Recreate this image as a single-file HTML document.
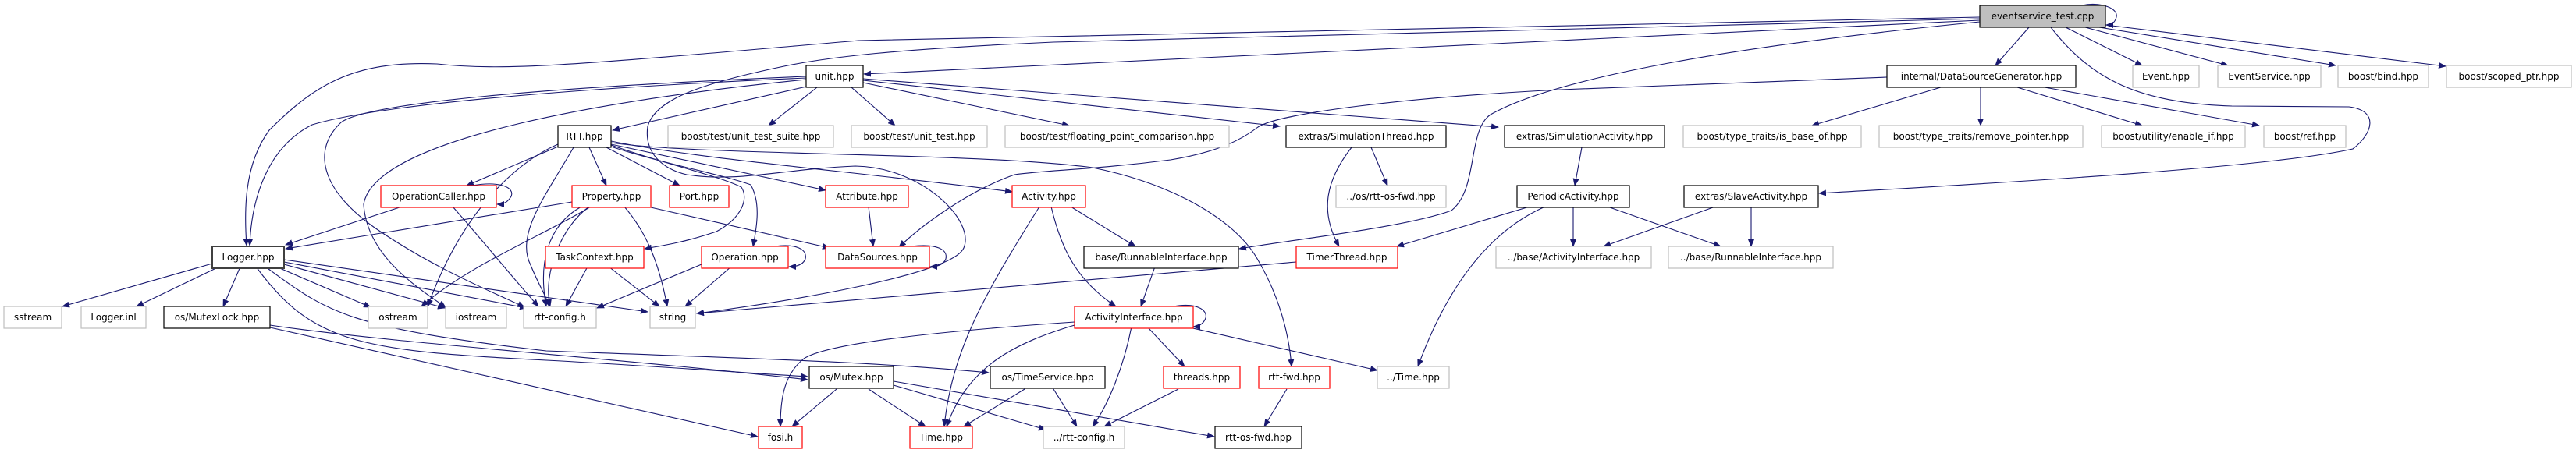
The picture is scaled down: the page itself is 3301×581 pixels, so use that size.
<!DOCTYPE html>
<html><head><meta charset="utf-8"><style>
html,body{margin:0;padding:0;background:#fff;}
svg{display:block;}
text{font-family:"DejaVu Sans","Liberation Sans",sans-serif;font-size:12px;fill:#000;}
.e{fill:none;stroke:#191970;stroke-width:1.1;marker-end:url(#a);}
.g{fill:#fff;stroke:#bfbfbf;stroke-width:1.2;}
.k{fill:#fff;stroke:#000;stroke-width:1.2;}
.r{fill:#fff;stroke:#ff0000;stroke-width:1.2;}
</style></head><body>
<svg width="3301" height="581" viewBox="0 0 3301 581" xmlns="http://www.w3.org/2000/svg">
<defs><marker id="a" markerWidth="10" markerHeight="8" refX="9" refY="4" orient="auto" markerUnits="userSpaceOnUse"><path d="M0,0 L10,4 L0,8 z" fill="#191970"/></marker></defs>

<g>
<path class="e" d="M2668,7 C2690,2 2715,10 2712,22 C2710,30 2705,32 2699,32"/>
<path class="e" d="M2600,35 L2557,84"/>
<path class="e" d="M2647,35 L2745,84"/>
<path class="e" d="M2672,35 L2855,84"/>
<path class="e" d="M2690,35 L2993,84"/>
<path class="e" d="M2698,32 L3134,85"/>
<path class="e" d="M2537,26 L1107,95"/>
<path class="e" d="M2537,22 L1100,52 C750,82 650,92 560,82 C450,77 400,112 345,167 C312,212 313,272 316,315"/>
<path class="e" d="M2537,28 C2250,56 2000,96 1910,147 C1880,167 1895,242 1860,270 C1800,292 1650,308 1588,319"/>
<path class="e" d="M2628,35 C2680,102 2740,132 2860,136 L3010,137 C3050,142 3040,172 3015,191 C2900,217 2500,238 2331,248"/>
<path class="e" d="M2537,24 L1350,54 C1150,63 1060,73 1000,86 C900,107 840,127 830,162 C825,197 850,217 880,224 C950,234 1000,217 1096,213 C1180,214 1250,282 1235,318 C1220,353 1000,388 893,402"/>
<path class="e" d="M2418,99 L2000,115 C1800,125 1640,145 1612,163 C1590,180 1560,195 1500,205 C1400,218 1340,218 1300,224 C1240,245 1180,290 1152,317"/>

<path class="e" d="M1047,108 L785,167"/>
<path class="e" d="M1047,112 L985,161"/>
<path class="e" d="M1091,112 L1147,161"/>
<path class="e" d="M1106,106 L1370,161"/>
<path class="e" d="M1106,103 L1640,162"/>
<path class="e" d="M1106,101 L1920,163"/>
<path class="e" d="M1033,100 C800,110 500,130 400,160 C340,190 322,260 320,315"/>
<path class="e" d="M1033,102 C800,125 480,175 466,262 C470,330 540,372 571,394"/>
<path class="e" d="M1033,98 C700,112 470,132 437,157 C400,192 410,242 480,292 C560,347 640,378 672,394"/>

<path class="e" d="M715,188 L598,238"/>
<path class="e" d="M735,189 C700,250 660,300 680,340 C690,365 700,380 704,393"/>
<path class="e" d="M755,189 L777,238"/>
<path class="e" d="M777,189 L871,238"/>
<path class="e" d="M783,185 L1058,244"/>
<path class="e" d="M783,181 C900,205 1100,220 1297,246"/>
<path class="e" d="M783,183 C900,200 1250,195 1400,215 C1500,235 1580,280 1610,330 C1640,380 1652,430 1655,470"/>
<path class="e" d="M783,186 C850,210 920,225 950,240 C960,255 950,280 918,297 C880,310 850,315 826,319"/>
<path class="e" d="M783,188 C850,210 930,225 962,237 C975,260 970,290 965,316"/>
<path class="e" d="M715,185 C680,200 600,250 548,393"/>

<path class="e" d="M605,238 C640,232 660,240 655,252 C650,260 645,262 637,262"/>
<path class="e" d="M515,265 L366,314"/>
<path class="e" d="M580,265 C620,310 660,360 690,393"/>

<path class="e" d="M733,259 L366,319"/>
<path class="e" d="M745,265 C700,290 690,340 700,393"/>
<path class="e" d="M755,265 C720,290 695,350 705,393"/>
<path class="e" d="M800,265 C830,300 845,340 855,393"/>
<path class="e" d="M834,266 L1063,318"/>
<path class="e" d="M757,265 C700,300 600,340 540,393"/>

<path class="e" d="M272,338 L80,393"/>
<path class="e" d="M283,341 L175,393"/>
<path class="e" d="M308,342 L286,393"/>
<path class="e" d="M354,342 L475,394"/>
<path class="e" d="M364,339 L570,395"/>
<path class="e" d="M364,336 L675,395"/>
<path class="e" d="M364,333 L830,400"/>
<path class="e" d="M328,342 C400,440 460,450 700,462 C850,470 950,478 1035,483"/>
<path class="e" d="M340,342 C420,400 440,420 700,450 C900,458 1100,462 1267,478"/>

<path class="e" d="M346,417 C500,440 800,460 1035,487"/>
<path class="e" d="M346,420 L971,560"/>

<path class="e" d="M753,342 L725,393"/>
<path class="e" d="M780,342 L845,393"/>
<path class="e" d="M993,316 C1020,312 1035,320 1032,332 C1029,340 1020,342 1011,342"/>
<path class="e" d="M899,339 L765,395"/>
<path class="e" d="M937,342 L878,393"/>

<path class="e" d="M1113,265 L1119,316"/>
<path class="e" d="M1168,316 C1200,312 1215,320 1212,332 C1209,340 1200,342 1192,342"/>

<path class="e" d="M1372,265 L1455,316"/>
<path class="e" d="M1347,265 C1360,320 1380,360 1430,393"/>
<path class="e" d="M1332,265 C1260,380 1220,450 1210,547"/>

<path class="e" d="M1480,342 L1462,393"/>
<path class="e" d="M1661,336 L893,402"/>
<path class="e" d="M1732,189 C1700,230 1690,270 1716,316"/>
<path class="e" d="M1757,189 L1778,238"/>
<path class="e" d="M2027,189 L2018,238"/>
<path class="e" d="M1960,265 L1790,316"/>
<path class="e" d="M1980,265 C1900,300 1850,380 1817,470"/>
<path class="e" d="M2016,265 L2016,316"/>
<path class="e" d="M2060,265 L2205,316"/>
<path class="e" d="M2198,265 L2055,316"/>
<path class="e" d="M2244,265 L2244,316"/>
<path class="e" d="M2487,112 L2322,161"/>
<path class="e" d="M2538,112 L2538,161"/>
<path class="e" d="M2585,112 L2745,161"/>
<path class="e" d="M2620,112 L2895,161"/>

<path class="e" d="M1504,393 C1530,388 1548,396 1545,408 C1542,416 1535,419 1529,419"/>
<path class="e" d="M1377,413 C1200,425 1060,440 1030,460 C1005,480 1000,510 1000,547"/>
<path class="e" d="M1377,417 C1300,440 1240,470 1213,547"/>
<path class="e" d="M1470,419 L1518,470"/>
<path class="e" d="M1450,419 C1440,470 1420,520 1400,547"/>
<path class="e" d="M1520,419 L1765,475"/>

<path class="e" d="M1072,499 L1015,547"/>
<path class="e" d="M1113,499 L1186,547"/>
<path class="e" d="M1145,494 L1340,551"/>
<path class="e" d="M1145,489 L1556,560"/>
<path class="e" d="M1313,499 L1235,547"/>
<path class="e" d="M1350,499 L1380,547"/>
<path class="e" d="M1510,499 L1415,547"/>
<path class="e" d="M1649,499 L1620,547"/>
</g>

<g>
<rect x="2537" y="7" width="161" height="28" fill="#bfbfbf" stroke="#000" stroke-width="1.2"/><text x="2617.5" y="25" text-anchor="middle">eventservice_test.cpp</text>

<rect class="k" x="1033" y="84" width="73" height="28"/><text x="1069.5" y="102" text-anchor="middle">unit.hpp</text>
<rect class="k" x="2418" y="84" width="242" height="28"/><text x="2539" y="102" text-anchor="middle">internal/DataSourceGenerator.hpp</text>
<rect class="g" x="2733" y="84" width="85" height="28"/><text x="2775.5" y="102" text-anchor="middle">Event.hpp</text>
<rect class="g" x="2842" y="84" width="132" height="28"/><text x="2908" y="102" text-anchor="middle">EventService.hpp</text>
<rect class="g" x="2996" y="84" width="116" height="28"/><text x="3054" y="102" text-anchor="middle">boost/bind.hpp</text>
<rect class="g" x="3135" y="84" width="160" height="28"/><text x="3215" y="102" text-anchor="middle">boost/scoped_ptr.hpp</text>

<rect class="k" x="715" y="161" width="68" height="28"/><text x="749" y="179" text-anchor="middle">RTT.hpp</text>
<rect class="g" x="856" y="161" width="212" height="28"/><text x="962" y="179" text-anchor="middle">boost/test/unit_test_suite.hpp</text>
<rect class="g" x="1091" y="161" width="174" height="28"/><text x="1178" y="179" text-anchor="middle">boost/test/unit_test.hpp</text>
<rect class="g" x="1288" y="161" width="287" height="28"/><text x="1431.5" y="179" text-anchor="middle">boost/test/floating_point_comparison.hpp</text>
<rect class="k" x="1648" y="161" width="205" height="28"/><text x="1750.5" y="179" text-anchor="middle">extras/SimulationThread.hpp</text>
<rect class="k" x="1928" y="161" width="205" height="28"/><text x="2030.5" y="179" text-anchor="middle">extras/SimulationActivity.hpp</text>
<rect class="g" x="2157" y="161" width="228" height="28"/><text x="2271" y="179" text-anchor="middle">boost/type_traits/is_base_of.hpp</text>
<rect class="g" x="2408" y="161" width="261" height="28"/><text x="2538.5" y="179" text-anchor="middle">boost/type_traits/remove_pointer.hpp</text>
<rect class="g" x="2693" y="161" width="184" height="28"/><text x="2785" y="179" text-anchor="middle">boost/utility/enable_if.hpp</text>
<rect class="g" x="2901" y="161" width="105" height="28"/><text x="2953.5" y="179" text-anchor="middle">boost/ref.hpp</text>

<rect class="r" x="488" y="238" width="148" height="28"/><text x="562" y="256" text-anchor="middle">OperationCaller.hpp</text>
<rect class="r" x="733" y="238" width="101" height="28"/><text x="783.5" y="256" text-anchor="middle">Property.hpp</text>
<rect class="r" x="858" y="238" width="76" height="28"/><text x="896" y="256" text-anchor="middle">Port.hpp</text>
<rect class="r" x="1058" y="238" width="106" height="28"/><text x="1111" y="256" text-anchor="middle">Attribute.hpp</text>
<rect class="r" x="1297" y="238" width="94" height="28"/><text x="1344" y="256" text-anchor="middle">Activity.hpp</text>
<rect class="g" x="1712" y="238" width="141" height="28"/><text x="1782.5" y="256" text-anchor="middle">../os/rtt-os-fwd.hpp</text>
<rect class="k" x="1944" y="238" width="144" height="28"/><text x="2016" y="256" text-anchor="middle">PeriodicActivity.hpp</text>
<rect class="k" x="2158" y="238" width="172" height="28"/><text x="2244" y="256" text-anchor="middle">extras/SlaveActivity.hpp</text>

<rect x="272" y="316" width="92" height="28" fill="#fff" stroke="#404040" stroke-width="2"/><text x="318" y="334" text-anchor="middle">Logger.hpp</text>
<rect class="r" x="699" y="316" width="126" height="28"/><text x="762" y="334" text-anchor="middle">TaskContext.hpp</text>
<rect class="r" x="899" y="316" width="111" height="28"/><text x="954.5" y="334" text-anchor="middle">Operation.hpp</text>
<rect class="r" x="1058" y="316" width="133" height="28"/><text x="1124.5" y="334" text-anchor="middle">DataSources.hpp</text>
<rect class="k" x="1389" y="316" width="198" height="28"/><text x="1488" y="334" text-anchor="middle">base/RunnableInterface.hpp</text>
<rect class="r" x="1661" y="316" width="130" height="28"/><text x="1726" y="334" text-anchor="middle">TimerThread.hpp</text>
<rect class="g" x="1917" y="316" width="199" height="28"/><text x="2016.5" y="334" text-anchor="middle">../base/ActivityInterface.hpp</text>
<rect class="g" x="2138" y="316" width="211" height="28"/><text x="2243.5" y="334" text-anchor="middle">../base/RunnableInterface.hpp</text>

<rect class="g" x="5" y="393" width="74" height="28"/><text x="42" y="411" text-anchor="middle">sstream</text>
<rect class="g" x="104" y="393" width="83" height="28"/><text x="145.5" y="411" text-anchor="middle">Logger.inl</text>
<rect class="k" x="210" y="393" width="136" height="28"/><text x="278" y="411" text-anchor="middle">os/MutexLock.hpp</text>
<rect class="g" x="472" y="393" width="76" height="28"/><text x="510" y="411" text-anchor="middle">ostream</text>
<rect class="g" x="571" y="393" width="78" height="28"/><text x="610" y="411" text-anchor="middle">iostream</text>
<rect class="g" x="671" y="393" width="93" height="28"/><text x="717.5" y="411" text-anchor="middle">rtt-config.h</text>
<rect class="g" x="833" y="393" width="58" height="28"/><text x="862" y="411" text-anchor="middle">string</text>
<rect class="r" x="1377" y="393" width="152" height="28"/><text x="1453" y="411" text-anchor="middle">ActivityInterface.hpp</text>

<rect class="k" x="1037" y="470" width="108" height="28"/><text x="1091" y="488" text-anchor="middle">os/Mutex.hpp</text>
<rect class="k" x="1269" y="470" width="147" height="28"/><text x="1342.5" y="488" text-anchor="middle">os/TimeService.hpp</text>
<rect class="r" x="1491" y="470" width="98" height="28"/><text x="1540" y="488" text-anchor="middle">threads.hpp</text>
<rect class="r" x="1613" y="470" width="91" height="28"/><text x="1658.5" y="488" text-anchor="middle">rtt-fwd.hpp</text>
<rect class="g" x="1765" y="470" width="92" height="28"/><text x="1811" y="488" text-anchor="middle">../Time.hpp</text>

<rect class="r" x="972" y="547" width="56" height="28"/><text x="1000" y="565" text-anchor="middle">fosi.h</text>
<rect class="r" x="1166" y="547" width="80" height="28"/><text x="1206" y="565" text-anchor="middle">Time.hpp</text>
<rect class="g" x="1337" y="547" width="104" height="28"/><text x="1389" y="565" text-anchor="middle">../rtt-config.h</text>
<rect class="k" x="1557" y="547" width="111" height="28"/><text x="1612.5" y="565" text-anchor="middle">rtt-os-fwd.hpp</text>
</g>
</svg>
</body></html>
